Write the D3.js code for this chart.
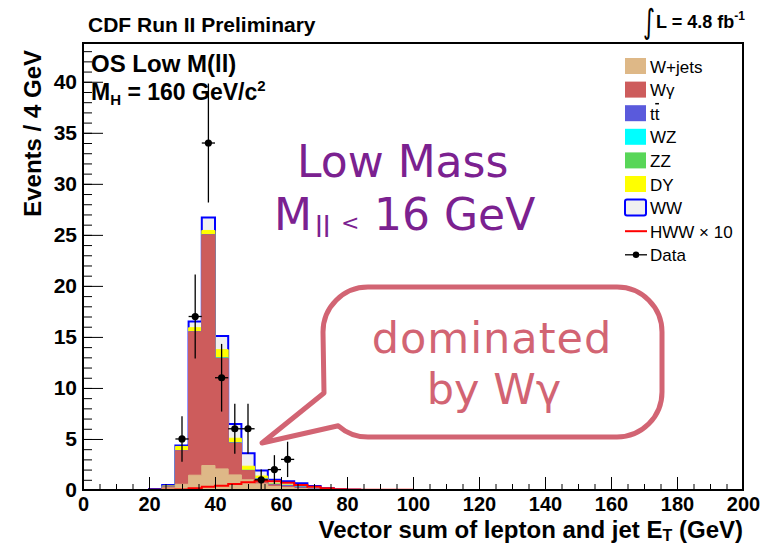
<!DOCTYPE html>
<html>
<head>
<meta charset="utf-8">
<script src="https://cdn.jsdelivr.net/npm/d3@7"></script>
<style>
  body { margin: 0; background: #fff; }
  svg { display: block; }
</style>
</head>
<body>
<svg id="chart" width="765" height="544"></svg>
<script>
// ---- histogram contents (events per 4 GeV bin) ----
const binWidth = 4;          // GeV
const axisMax = 200;         // GeV
const firstBin = 20;         // lower edge of the first listed bin; all other bins are empty
// bins: 20,24,28,32,36,40,44,48,52,56,60,64,68,72,76,80,84,88,92,96
const wjets = [0.03, 0.20, 0.56, 1.45, 2.40, 2.07, 1.48, 1.00, 0.60, 0.35, 0.25, 0.15, 0.08, 0.03, 0, 0, 0, 0, 0, 0];
const wgamma = [0, 0.10, 3.28, 14.05, 22.60, 10.83, 3.12, 0.90, 0.45, 0.15, 0.10, 0.05, 0, 0, 0, 0, 0, 0, 0, 0];
const ttbar = [0, 0, 0, 0, 0, 0, 0, 0, 0.02, 0.05, 0.10, 0.10, 0.08, 0.05, 0.02, 0, 0, 0, 0, 0];
const wz = [0, 0, 0, 0, 0.02, 0.03, 0.03, 0.02, 0.02, 0.01, 0, 0, 0, 0, 0, 0, 0, 0, 0, 0];
const zz = [0, 0, 0, 0, 0.01, 0.02, 0.02, 0.01, 0, 0, 0, 0, 0, 0, 0, 0, 0, 0, 0, 0];
const dy = [0.03, 0.10, 0.43, 0.40, 0.40, 0.80, 0.42, 0.40, 0.28, 0.10, 0.05, 0.05, 0.02, 0, 0, 0, 0, 0, 0, 0];
const ww = [0.04, 0.09, 0.10, 0.60, 1.28, 1.35, 1.40, 1.27, 0.53, 0.34, 0.35, 0.30, 0.22, 0.10, 0.04, 0.03, 0.01, 0, 0, 0];
const hww10 = [0.02, 0.03, 0.06, 0.16, 0.33, 0.42, 0.60, 0.75, 0.90, 0.85, 0.72, 0.50, 0.33, 0.16, 0.07, 0.04, 0.03, 0.02, 0.02, 0.02];

// observed events (bin centres, counts)
const dataX = [30, 34, 38, 42, 46, 50, 54, 58, 62];
const dataN = [5, 17, 34, 11, 6, 6, 1, 2, 3];

const xTicks = d3.range(0, 201, 20);
const xMinor = d3.range(0, 201, 5);
const yTicks = d3.range(0, 41, 5);
const yMinor = d3.range(0, 44, 1);

const processNames = ["W+jets", "W\u03b3", "tt", "WZ", "ZZ", "DY", "WW"];
const processColors = ["#deb887", "#cd5c5c", "#5a5adc", "#00ffff", "#58d658", "#ffff00", "#f0f0f0"];

// ---- layout ----
const frame = { left: 83, right: 743, top: 43, bottom: 490 };
const svg = d3.select("#chart");
const x = d3.scaleLinear([0, axisMax], [frame.left, frame.right]);
const y = d3.scaleLinear([0, 43.8], [frame.bottom, frame.top]);
const boldFont = "'Liberation Sans', Arial, Helvetica, sans-serif";

const nBins = axisMax / binWidth;
function fullRange(arr) {
  const out = new Array(nBins).fill(0);
  const off = firstBin / binWidth;
  arr.forEach((v, i) => { out[off + i] = v; });
  return out;
}
function stepPoints(vals) {
  const pts = vals.map((v, i) => ({ e: i * binWidth, v }));
  pts.push({ e: axisMax, v: vals[vals.length - 1] });
  return pts;
}

// stacked backgrounds, bottom to top
const layers = [wjets, wgamma, ttbar, wz, zz, dy, ww].map(fullRange);
const cumulative = [];
layers.forEach((layer, k) => {
  cumulative.push(layer.map((v, i) => v + (k ? cumulative[k - 1][i] : 0)));
});

const area = d3.area()
  .x(d => x(d.e))
  .y0(y(0))
  .y1(d => y(d.v))
  .curve(d3.curveStepAfter);

const gHist = svg.append("g");
// drawn top of stack first so each lower layer covers the one above it
for (let k = layers.length - 1; k >= 0; k--) {
  const isWW = k === layers.length - 1;
  gHist.append("path")
    .datum(stepPoints(cumulative[k]))
    .attr("d", area)
    .attr("fill", processColors[k])
    .attr("stroke", isWW ? "#0000ff" : processColors[k])
    .attr("stroke-width", isWW ? 2 : 1);
}

// signal x10
const line = d3.line().x(d => x(d.e)).y(d => y(d.v)).curve(d3.curveStepAfter);
svg.append("path")
  .datum(stepPoints(fullRange(hww10)))
  .attr("d", line)
  .attr("fill", "none")
  .attr("stroke", "#ff0000")
  .attr("stroke-width", 2);

// data with Poisson errors
const gData = svg.append("g");
dataX.forEach((cx, i) => {
  const n = dataN[i];
  const err = Math.sqrt(n);
  gData.append("line")
    .attr("x1", x(cx)).attr("x2", x(cx))
    .attr("y1", y(n - err)).attr("y2", y(n + err))
    .attr("stroke", "#000").attr("stroke-width", 1.3);
  gData.append("line")
    .attr("x1", x(cx - binWidth / 2)).attr("x2", x(cx + binWidth / 2))
    .attr("y1", y(n)).attr("y2", y(n))
    .attr("stroke", "#000").attr("stroke-width", 1.3);
  gData.append("circle")
    .attr("cx", x(cx)).attr("cy", y(n)).attr("r", 3.6)
    .attr("fill", "#000");
});

// ---- axes (ticks point into the frame) ----
function styleAxis(size) {
  return g => {
    g.select(".domain").remove();
    g.selectAll(".tick line").attr("stroke", "#000").attr("stroke-width", 1);
    g.selectAll(".tick text")
      .attr("fill", "#000")
      .style("font-family", boldFont)
      .style("font-weight", "bold")
      .style("font-size", size + "px");
  };
}
function ticksOnly(g) {
  g.select(".domain").remove();
  g.selectAll(".tick text").remove();
  g.selectAll(".tick line").attr("stroke", "#000").attr("stroke-width", 1);
}
svg.append("g").attr("transform", `translate(0,${frame.bottom})`)
  .call(d3.axisBottom(x).tickValues(xMinor).tickSize(-6))
  .call(ticksOnly);
svg.append("g").attr("transform", `translate(0,${frame.bottom})`)
  .call(d3.axisBottom(x).tickValues(xTicks).tickSize(-13).tickPadding(7).tickFormat(d3.format("d")))
  .call(styleAxis(20));
svg.append("g").attr("transform", `translate(${frame.left},0)`)
  .call(d3.axisLeft(y).tickValues(yMinor).tickSize(-9))
  .call(ticksOnly);
svg.append("g").attr("transform", `translate(${frame.left},0)`)
  .call(d3.axisLeft(y).tickValues(yTicks).tickSize(-20).tickPadding(6).tickFormat(d3.format("d")))
  .call(styleAxis(21));

svg.append("rect")
  .attr("x", frame.left).attr("y", frame.top)
  .attr("width", frame.right - frame.left).attr("height", frame.bottom - frame.top)
  .attr("fill", "none").attr("stroke", "#000").attr("stroke-width", 2);

// axis titles
const xTitle = svg.append("text")
  .attr("x", frame.right).attr("y", 538)
  .attr("text-anchor", "end")
  .style("font-family", boldFont).style("font-weight", "bold").style("font-size", "24px");
xTitle.append("tspan").text("Vector sum of lepton and jet E");
xTitle.append("tspan").attr("dy", 3).style("font-size", "16px").text("T");
xTitle.append("tspan").attr("dy", -3).text(" (GeV)");

svg.append("text")
  .attr("transform", "translate(41,50) rotate(-90)")
  .attr("text-anchor", "end")
  .style("font-family", boldFont).style("font-weight", "bold").style("font-size", "24px")
  .text("Events / 4 GeV");

// header texts
svg.append("text")
  .attr("x", 88).attr("y", 32)
  .style("font-family", boldFont).style("font-weight", "bold").style("font-size", "21px")
  .text("CDF Run II Preliminary");

// integral sign, stretched vertically
svg.append("text")
  .attr("transform", "translate(643,33) scale(1,1.45)")
  .style("font-family", "'DejaVu Sans', sans-serif").style("font-size", "23px")
  .text("\u222b");
const lumi = svg.append("text")
  .attr("x", 656).attr("y", 28)
  .style("font-family", boldFont).style("font-weight", "bold").style("font-size", "18px");
lumi.append("tspan").text("L = 4.8 fb");
lumi.append("tspan").attr("dy", -8).style("font-size", "12px").text("-1");

svg.append("text")
  .attr("x", 91).attr("y", 72)
  .style("font-family", boldFont).style("font-weight", "bold").style("font-size", "24px")
  .text("OS Low M(ll)");
const mh = svg.append("text")
  .attr("x", 91).attr("y", 100)
  .style("font-family", boldFont).style("font-weight", "bold").style("font-size", "23px");
mh.append("tspan").text("M");
mh.append("tspan").attr("dy", 5).style("font-size", "15px").text("H");
mh.append("tspan").attr("dy", -5).text(" = 160 GeV/c");
mh.append("tspan").attr("dy", -9).style("font-size", "15px").text("2");

// ---- legend ----
const legendFont = "'Liberation Sans', Arial, Helvetica, sans-serif";
const legendEntries = processNames.concat(["HWW \u00d7 10", "Data"]);
const legendY0 = 66, legendStep = 23.6;
const gLeg = svg.append("g");
legendEntries.forEach((name, i) => {
  const cy = legendY0 + i * legendStep;
  if (i < processNames.length) {
    const isWW = name === "WW";
    gLeg.append("rect")
      .attr("x", 625).attr("y", cy - 8).attr("width", 21).attr("height", 16)
      .attr("rx", isWW ? 2 : 0)
      .attr("fill", processColors[i])
      .attr("stroke", isWW ? "#0000ff" : "none")
      .attr("stroke-width", 2);
  } else if (name === "Data") {
    gLeg.append("line").attr("x1", 625).attr("x2", 647).attr("y1", cy).attr("y2", cy)
      .attr("stroke", "#000").attr("stroke-width", 1.3);
    gLeg.append("circle").attr("cx", 636).attr("cy", cy).attr("r", 3.2).attr("fill", "#000");
  } else {
    gLeg.append("line").attr("x1", 625).attr("x2", 647).attr("y1", cy).attr("y2", cy)
      .attr("stroke", "#ff0000").attr("stroke-width", 2);
  }
  const t = gLeg.append("text")
    .attr("x", 650).attr("y", cy + 6.5)
    .style("font-family", legendFont).style("font-size", "17px")
    .text(name);
  if (name === "tt") {
    // anti-top bar over the second t
    const w = t.node().getComputedTextLength();
    gLeg.append("line")
      .attr("x1", 650 + w / 2 + 0.5).attr("x2", 650 + w - 0.5)
      .attr("y1", cy - 9.5).attr("y2", cy - 9.5)
      .attr("stroke", "#000").attr("stroke-width", 1.5);
  }
});

// ---- annotations ----
const noteFont = "'DejaVu Sans', 'Open Sans', sans-serif";
const purple = "#7b2190";
svg.append("text")
  .attr("x", 297).attr("y", 177)
  .attr("fill", purple)
  .style("font-family", noteFont).style("font-size", "44px")
  .text("Low Mass");
const cut = svg.append("text")
  .attr("y", 230)
  .attr("fill", purple)
  .style("font-family", noteFont).style("font-size", "44px");
cut.append("tspan").attr("x", 274).text("M");
cut.append("tspan").attr("x", 315).attr("dy", 7).style("font-size", "28px").text("ll");
cut.append("tspan").attr("x", 341).attr("dy", -7).style("font-size", "22px").text("<");
cut.append("tspan").attr("x", 374).text("16 GeV");

// speech bubble pointing at the Wγ-dominated peak
const pink = "#d26473";
const bubble = d3.path();
bubble.moveTo(368, 287);
bubble.lineTo(617, 287);
bubble.arcTo(662, 287, 662, 332, 45);
bubble.lineTo(662, 392);
bubble.arcTo(662, 437, 617, 437, 45);
bubble.lineTo(368, 437);
bubble.arc(368, 392, 45, Math.PI / 2, Math.PI * 0.73, false);
bubble.lineTo(262, 443);
bubble.lineTo(324, 393);
bubble.lineTo(323, 332);
bubble.arcTo(323, 287, 368, 287, 45);
bubble.closePath();
svg.append("path")
  .attr("d", bubble.toString())
  .attr("fill", "#fff")
  .attr("stroke", pink)
  .attr("stroke-width", 5)
  .attr("stroke-linejoin", "round");

svg.append("text")
  .attr("x", 492).attr("y", 353)
  .attr("text-anchor", "middle")
  .attr("fill", pink)
  .style("font-family", noteFont).style("font-size", "43px")
  .style("letter-spacing", "1px")
  .text("dominated");
svg.append("text")
  .attr("x", 494).attr("y", 404)
  .attr("text-anchor", "middle")
  .attr("fill", pink)
  .style("font-family", noteFont).style("font-size", "43px")
  .text("by W\u03b3");
</script>
</body>
</html>
